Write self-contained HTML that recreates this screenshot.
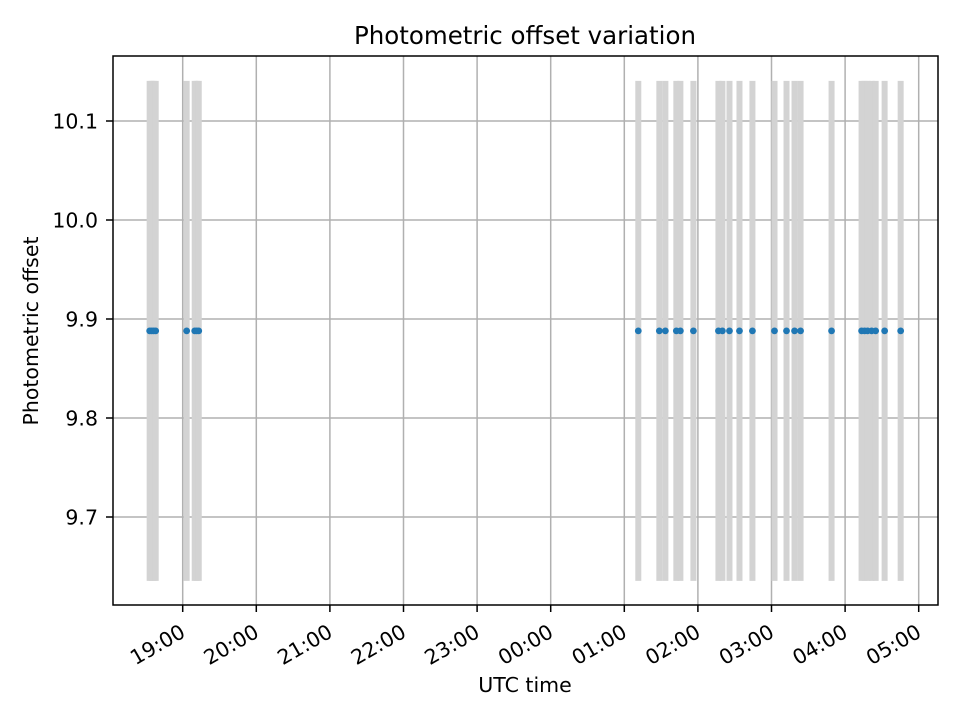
<!DOCTYPE html>
<html><head><meta charset="utf-8"><style>
html,body{margin:0;padding:0;background:#fff;}
svg text{font-family:"DejaVu Sans","Liberation Sans",sans-serif;}
</style></head><body>
<svg id="chart" width="960" height="720" xmlns="http://www.w3.org/2000/svg" style="position:absolute;left:0;top:0"></svg>
<script>
// data: observation times (hours UTC, >24 = next day), offsets, errors
const times = [18.551,18.578,18.605,18.633,19.054,19.163,19.190,19.218,
  25.190,25.476,25.558,25.707,25.762,25.939,26.279,26.333,26.429,26.565,26.741,27.041,
  27.204,27.313,27.395,27.816,28.224,28.265,28.306,28.361,28.415,28.537,28.755];
const offsets = times.map(()=>9.888);
const errors = times.map(()=>0.2525);
const xTickHours = [19,20,21,22,23,24,25,26,27,28,29];
const xTickLabels = ["19:00","20:00","21:00","22:00","23:00","00:00","01:00","02:00","03:00","04:00","05:00"];
const yTicks = [9.7,9.8,9.9,10.0,10.1];
const yTickLabels = ["9.7","9.8","9.9","10.0","10.1"];

const L=113,R=938,T=56,B=605;
const xs = h => 182.7 + (h-19)*73.6;
const ys = v => 121 - (v-10.1)*990;
const svg=document.getElementById('chart');
const NS="http://www.w3.org/2000/svg";
function mk(tag,attrs,parent){const e=document.createElementNS(NS,tag);for(const k in attrs)e.setAttribute(k,attrs[k]);(parent||svg).appendChild(e);return e;}

xTickHours.forEach((h,i)=>{
  const g=mk('line',{x1:xs(h),x2:xs(h),y1:T,y2:B,stroke:'#b0b0b0','stroke-width':1.5});
  
  
});
yTicks.forEach(v=>{
  const g=mk('line',{x1:L,x2:R,y1:ys(v),y2:ys(v),stroke:'#b0b0b0','stroke-width':1.5});
  
  
});
times.forEach((t,i)=>{
  const e=mk('line',{x1:xs(t),x2:xs(t),y1:ys(offsets[i]-errors[i]),y2:ys(offsets[i]+errors[i]),stroke:'#d3d3d3','stroke-width':6});
  
  
});
times.forEach((t,i)=>{
  const c=mk('circle',{cx:xs(t),cy:ys(offsets[i]),r:3.4,fill:'#1f77b4'});
  
  
});
const fr=mk('rect',{x:L,y:T,width:R-L,height:B-T,fill:'none',stroke:'#000','stroke-width':1.5});


xTickHours.forEach((h,i)=>{
  const x=xs(h);
  const tk=mk('line',{x1:x,x2:x,y1:B,y2:B+7,stroke:'#000','stroke-width':1.5});
  
  
  const tx=mk('text',{x:x+4,y:B+31,'font-size':20.5,'text-anchor':'end',transform:`rotate(-30 ${x+4} ${B+31})`});
  tx.textContent=xTickLabels[i];
  
  
});
yTicks.forEach((v,i)=>{
  const y=ys(v);
  const tk=mk('line',{x1:L-7,x2:L,y1:y,y2:y,stroke:'#000','stroke-width':1.5});
  
  
  const tx=mk('text',{x:L-15,y:y+7.5,'font-size':20.5,'text-anchor':'end'});
  tx.textContent=yTickLabels[i];
  
  
});
</script>
<svg style="position:absolute;left:0;top:0" width="960" height="720" xmlns="http://www.w3.org/2000/svg">
<text x="525" y="44" font-size="24.5" text-anchor="middle">Photometric offset variation</text>
<text x="525" y="692" font-size="20.5" text-anchor="middle">UTC time</text>
<text x="38" y="331" font-size="20.5" text-anchor="middle" transform="rotate(-90 38 331)">Photometric offset</text>
</svg>
</body></html>
